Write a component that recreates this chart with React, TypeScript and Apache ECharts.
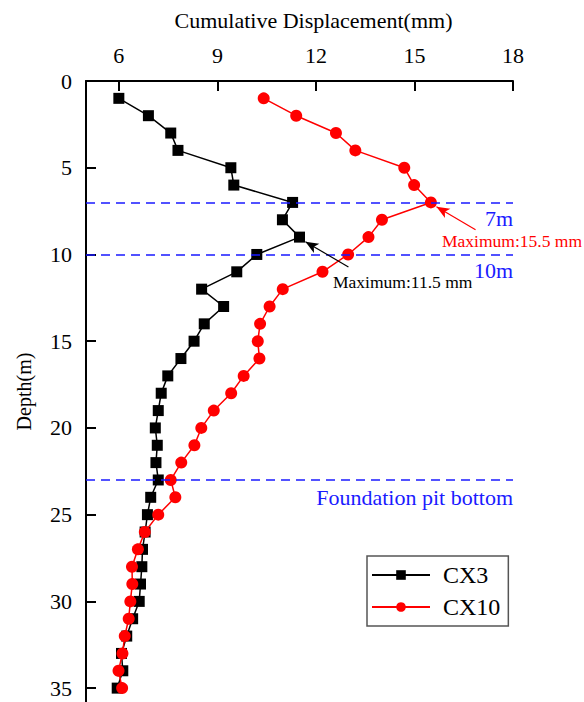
import React, { useEffect, useRef } from "react";
import * as echarts from "echarts";

const depths = [1,2,3,4,5,6,7,8,9,10,11,12,13,14,15,16,17,18,19,20,21,22,23,24,25,26,27,28,29,30,31,32,33,34,35];
const cx3 = [6.0,6.9,7.58,7.8,9.41,9.5,11.29,10.98,11.5,10.2,9.59,8.52,9.19,8.6,8.29,7.89,7.49,7.29,7.2,7.11,7.17,7.13,7.2,6.97,6.87,6.8,6.72,6.7,6.66,6.62,6.42,6.24,6.08,6.12,5.95];
const cx10 = [10.41,11.4,12.61,13.2,14.69,14.99,15.5,14.01,13.6,12.98,12.2,10.99,10.59,10.3,10.23,10.28,9.8,9.42,8.89,8.51,8.3,7.9,7.58,7.72,7.2,6.79,6.58,6.4,6.41,6.35,6.3,6.18,6.11,5.99,6.1];
const xTicks = [6, 9, 12, 15, 18];
const yTicks = [0, 5, 10, 15, 20, 25, 30, 35];
const refDepths = [7, 10, 23];
const refLabels = ["7m", "10m", "Foundation pit bottom"];

const FONT = "'Liberation Serif', 'Times New Roman', 'DejaVu Serif', serif";

export default function App() {
  const ref = useRef<HTMLDivElement>(null);
  useEffect(() => {
    if (!ref.current) return;
    const chart = echarts.init(ref.current, null, { renderer: "svg" });
    const s3 = depths.map((d, i) => [cx3[i], d]);
    const s10 = depths.map((d, i) => [cx10[i], d]);
    chart.setOption({
      animation: false,
      backgroundColor: "#fff",
      textStyle: { fontFamily: FONT },
      grid: { left: 86, top: 81, right: 71, bottom: 0, containLabel: false },
      xAxis: {
        type: "value",
        position: "top",
        min: 5,
        max: 18,
        name: "Cumulative Displacement(mm)",
        nameLocation: "middle",
        nameGap: 50,
        nameTextStyle: { fontFamily: FONT, fontSize: 22, color: "#000", padding: [0, 0, 0, 28] },
        axisLine: { show: true, onZero: false, lineStyle: { color: "#000", width: 2 } },
        axisTick: { show: true, inside: true, length: 10, customValues: xTicks, lineStyle: { color: "#000", width: 2 } },
        axisLabel: { customValues: xTicks, fontFamily: FONT, fontSize: 22, color: "#000", margin: 15 },
        splitLine: { show: false },
      },
      yAxis: {
        type: "value",
        inverse: true,
        min: 0,
        max: 35.8,
        name: "Depth(m)",
        nameLocation: "middle",
        nameGap: 52,
        nameRotate: 90,
        nameTextStyle: { fontFamily: FONT, fontSize: 20, color: "#000" },
        axisLine: { show: true, onZero: false, lineStyle: { color: "#000", width: 2 } },
        axisTick: { show: true, inside: true, length: 10, customValues: yTicks, lineStyle: { color: "#000", width: 2 } },
        axisLabel: { customValues: yTicks, fontFamily: FONT, fontSize: 22, color: "#000", margin: 14 },
        splitLine: { show: false },
      },
      legend: {
        orient: "vertical",
        left: 367,
        top: 556,
        itemWidth: 58,
        itemHeight: 12,
        itemGap: 8,
        padding: [7, 8, 7, 4],
        borderColor: "#555",
        borderWidth: 1.5,
        textStyle: { fontFamily: FONT, fontSize: 24, color: "#000", padding: [0, 0, 0, 8] },
        data: ["CX3", "CX10"],
      },
      series: [
        {
          name: "CX3",
          type: "line",
          data: s3,
          symbol: "rect",
          symbolSize: 11,
          itemStyle: { color: "#000" },
          lineStyle: { color: "#000", width: 1.5 },
          z: 3,
          markLine: {
            silent: true,
            symbol: "none",
            animation: false,
            label: { show: false },
            lineStyle: { color: "#1a1aff", type: [9, 6], width: 1.5 },
            data: refDepths.map((d, i) => ({
              yAxis: d,
              label: {
                show: true,
                formatter: refLabels[i],
                position: "insideEndBottom",
                distance: [0, i === 2 ? 7 : 5],
                color: "#1a1aff",
                fontFamily: FONT,
                fontSize: 22,
              },
            })),
          },
        },
        {
          name: "CX10",
          type: "line",
          data: s10,
          symbol: "circle",
          symbolSize: 12,
          itemStyle: { color: "#ff0000" },
          lineStyle: { color: "#ff0000", width: 1.5 },
          z: 4,
        },
        {
          name: "arrows",
          type: "line",
          data: [],
          markLine: {
            silent: true,
            animation: false,
            symbolSize: [8, 13],
            label: { show: false },
            data: [
              [
                { coord: [16.86, 8.58], symbol: "none", lineStyle: { color: "#ff0000", width: 1.2, type: "solid" } },
                { coord: [15.67, 7.25], symbol: "arrow" },
              ],
              [
                { coord: [12.99, 10.72], symbol: "none", lineStyle: { color: "#000", width: 1.2, type: "solid" } },
                { coord: [11.68, 9.27], symbol: "arrow" },
              ],
            ],
          },
        },
      ],
      graphic: [
        {
          type: "text",
          left: 442,
          top: 232,
          style: { text: "Maximum:15.5 mm", fill: "#ff0000", font: `17.5px ${FONT}` },
        },
        {
          type: "text",
          left: 333,
          top: 273,
          style: { text: "Maximum:11.5 mm", fill: "#000", font: `17.5px ${FONT}` },
        },
      ],
    });
    return () => chart.dispose();
  }, []);
  return <div ref={ref} style={{ position: "absolute", left: 0, top: 0, width: 584, height: 702 }} />;
}
